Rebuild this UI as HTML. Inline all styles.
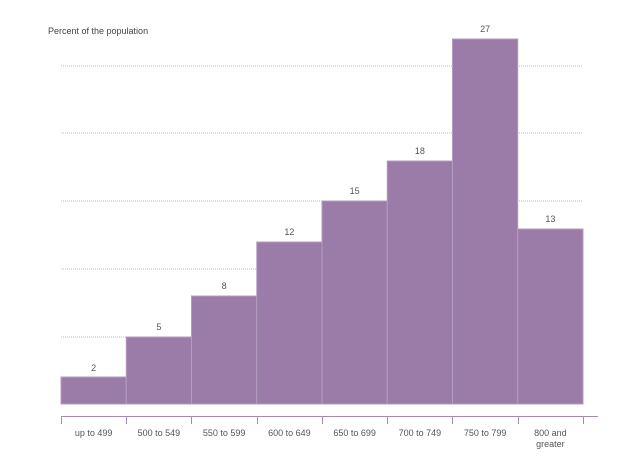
<!DOCTYPE html>
<html><head><style>body{margin:0;background:#fff}</style></head><body>
<svg width="640" height="462" xmlns="http://www.w3.org/2000/svg" font-family="Liberation Sans, sans-serif" font-size="9" fill="#555">
<text x="48" y="34" fill="#444">Percent of the population</text>
<g stroke="#bbb" stroke-dasharray="1,1">
<line x1="61" y1="66" x2="583" y2="66"/><line x1="61" y1="133" x2="583" y2="133"/>
<line x1="61" y1="201" x2="583" y2="201"/><line x1="61" y1="269" x2="583" y2="269"/>
<line x1="61" y1="337" x2="583" y2="337"/>
</g>
<g fill="#9b7ca8" stroke="#b49cc0" stroke-width="1">
<rect x="61" y="377" width="65.25" height="27"/>
<rect x="126.25" y="337" width="65.25" height="67"/>
<rect x="191.5" y="296" width="65.25" height="108"/>
<rect x="256.75" y="242" width="65.25" height="162"/>
<rect x="322" y="201" width="65.25" height="203"/>
<rect x="387.25" y="161" width="65.25" height="243"/>
<rect x="452.5" y="39" width="65.25" height="365"/>
<rect x="517.75" y="229" width="65.25" height="175"/>
</g>
<g text-anchor="middle">
<text x="93.6" y="371">2</text><text x="158.9" y="330">5</text><text x="224.1" y="289">8</text>
<text x="289.4" y="235">12</text><text x="354.6" y="194">15</text><text x="419.9" y="154">18</text>
<text x="485.1" y="32">27</text><text x="550.4" y="222">13</text>
</g>
<g stroke="#a58bb2" stroke-width="1">
<line x1="61" y1="416.5" x2="598" y2="416.5"/>
<line x1="61.5" y1="416" x2="61.5" y2="424"/><line x1="126.5" y1="416" x2="126.5" y2="424"/>
<line x1="191.5" y1="416" x2="191.5" y2="424"/><line x1="257.5" y1="416" x2="257.5" y2="424"/>
<line x1="322.5" y1="416" x2="322.5" y2="424"/><line x1="387.5" y1="416" x2="387.5" y2="424"/>
<line x1="452.5" y1="416" x2="452.5" y2="424"/><line x1="518.5" y1="416" x2="518.5" y2="424"/>
<line x1="583.5" y1="416" x2="583.5" y2="424"/>
</g>
<g text-anchor="middle">
<text x="93.6" y="436">up to 499</text><text x="158.9" y="436">500 to 549</text>
<text x="224.1" y="436">550 to 599</text><text x="289.4" y="436">600 to 649</text>
<text x="354.6" y="436">650 to 699</text><text x="419.9" y="436">700 to 749</text>
<text x="485.1" y="436">750 to 799</text><text x="550.4" y="436">800 and</text>
<text x="550.4" y="447">greater</text>
</g>
</svg>
</body></html>
